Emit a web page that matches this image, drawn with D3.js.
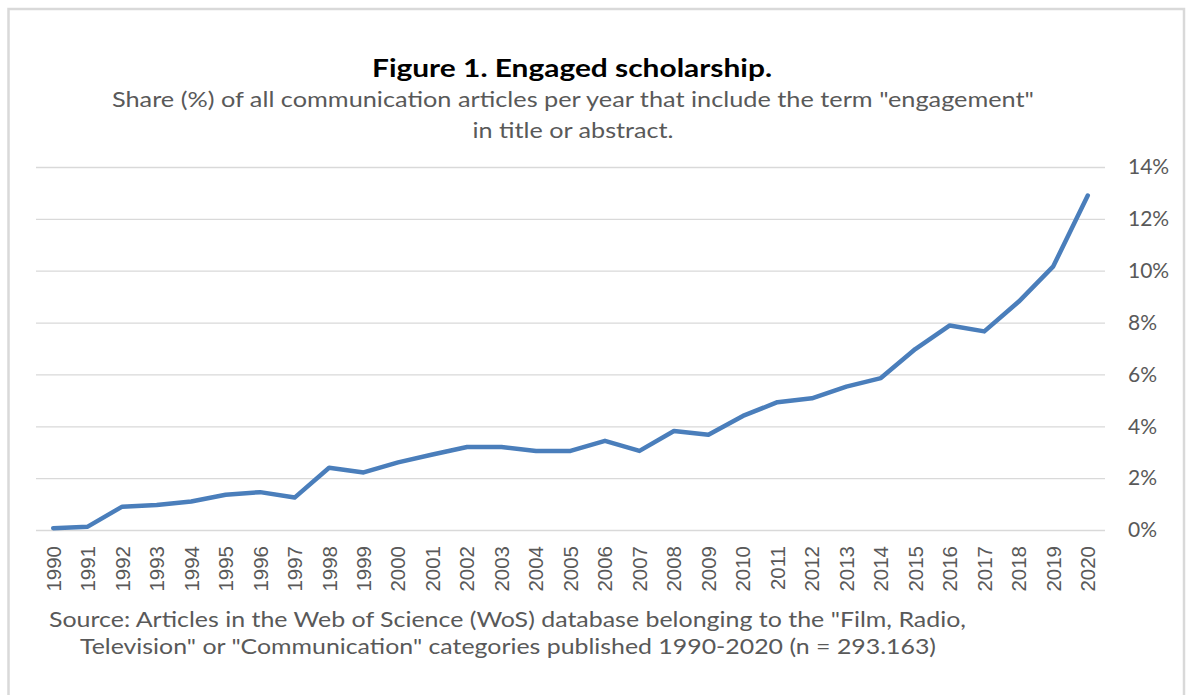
<!DOCTYPE html>
<html>
<head>
<meta charset="utf-8">
<script src="https://cdn.jsdelivr.net/npm/d3@7"></script>
<style>
  body { margin: 0; background: #fff; }
  svg { display: block; }
</style>
</head>
<body>
<script>
var years = ["1990", "1991", "1992", "1993", "1994", "1995", "1996", "1997", "1998", "1999",
    "2000", "2001", "2002", "2003", "2004", "2005", "2006", "2007", "2008", "2009",
    "2010", "2011", "2012", "2013", "2014", "2015", "2016", "2017", "2018", "2019", "2020"];

// share (%) of articles per year mentioning "engagement"
var shares = [0.07, 0.13, 0.9, 0.96, 1.1, 1.36, 1.46, 1.25, 2.4, 2.22,
    2.61, 2.91, 3.2, 3.2, 3.05, 3.05, 3.44, 3.05, 3.82, 3.67,
    4.4, 4.93, 5.08, 5.53, 5.86, 6.98, 7.89, 7.66, 8.81, 10.17, 12.9];

var yTicks = [0, 2, 4, 6, 8, 10, 12, 14];

var titleText = "Figure 1. Engaged scholarship.";
var subtitleLines = [
    "Share (%) of all communication articles per year that  include the term \"engagement\"",
    "in title or abstract."
];
var sourceLines = [
    "Source: Articles in the Web of Science (WoS) database belonging to the \"Film, Radio,",
    "Television\" or \"Communication\" categories published 1990-2020 (n = 293.163)"
];

var w = 1187;
var h = 695;
var grey = "#595959";
var calibri = "Lato, 'Open Sans', sans-serif";

var svg = d3.select("body")
    .append("svg")
    .attr("width", w)
    .attr("height", h);

// chart frame
svg.append("rect")
    .attr("x", 8.5)
    .attr("y", 9)
    .attr("width", 1175.5)
    .attr("height", h + 20)
    .attr("fill", "#fff")
    .attr("stroke", "#d9d9d9")
    .attr("stroke-width", 2.5);

// plot area (avoid "top" -> window.top)
var pLeft = 36, pRight = 1105, pTop = 167, pBottom = 530;

var xScale = d3.scaleBand()
    .domain(years)
    .range([pLeft, pRight]);

var yScale = d3.scaleLinear()
    .domain([0, 14])
    .range([pBottom, pTop]);

// gridlines + right-hand labels
var yAxis = svg.append("g")
    .attr("transform", "translate(" + pRight + ",0)")
    .call(d3.axisRight(yScale)
        .tickValues(yTicks)
        .tickSize(-(pRight - pLeft))
        .tickPadding(23)
        .tickFormat(function(d) { return d + "%"; }));

yAxis.select(".domain").remove();
yAxis.selectAll("line")
    .attr("stroke", "#d9d9d9")
    .attr("stroke-width", 1.3);
yAxis.selectAll("text")
    .attr("fill", grey)
    .style("font-family", calibri)
    .style("font-size", "21px");

// years along the bottom, rotated
var xAxis = svg.append("g")
    .attr("transform", "translate(0," + pBottom + ")")
    .call(d3.axisBottom(xScale).tickSize(0).tickPadding(0));

xAxis.select(".domain").remove();
xAxis.selectAll("text")
    .attr("transform", "rotate(-90)")
    .attr("x", -16)
    .attr("y", 0)
    .attr("dy", "0.36em")
    .attr("text-anchor", "end")
    .attr("fill", grey)
    .style("font-family", "'Liberation Sans', Arial, sans-serif")
    .style("font-size", "20.5px");

// the series
var line = d3.line()
    .x(function(d, i) { return xScale(years[i]) + xScale.bandwidth() / 2; })
    .y(function(d) { return yScale(d); });

svg.append("path")
    .datum(shares)
    .attr("d", line)
    .attr("fill", "none")
    .attr("stroke", "#4a7ebb")
    .attr("stroke-width", 4.5)
    .attr("stroke-linejoin", "round")
    .attr("stroke-linecap", "round");

// titles
svg.append("text")
    .attr("x", 572)
    .attr("y", 77)
    .attr("text-anchor", "middle")
    .attr("textLength", 400)
    .attr("lengthAdjust", "spacingAndGlyphs")
    .style("font-family", calibri)
    .style("font-weight", "bold")
    .style("font-size", "25px")
    .attr("fill", "#000")
    .text(titleText);

var subW = [922, 201];
svg.selectAll(".subtitle")
    .data(subtitleLines)
    .enter()
    .append("text")
    .attr("class", "subtitle")
    .attr("x", 573)
    .attr("y", function(d, i) { return 107 + i * 31; })
    .attr("text-anchor", "middle")
    .attr("textLength", function(d, i) { return subW[i]; })
    .attr("lengthAdjust", "spacingAndGlyphs")
    .attr("fill", grey)
    .style("font-family", calibri)
    .style("font-size", "21px")
    .text(function(d) { return d; });

// source note
var srcX = [49, 80];
var srcW = [917, 856];
svg.selectAll(".source")
    .data(sourceLines)
    .enter()
    .append("text")
    .attr("class", "source")
    .attr("x", function(d, i) { return srcX[i]; })
    .attr("y", function(d, i) { return 627 + i * 27; })
    .attr("textLength", function(d, i) { return srcW[i]; })
    .attr("lengthAdjust", "spacingAndGlyphs")
    .attr("fill", grey)
    .style("font-family", calibri)
    .style("font-size", "22px")
    .text(function(d) { return d; });
</script>
</body>
</html>
